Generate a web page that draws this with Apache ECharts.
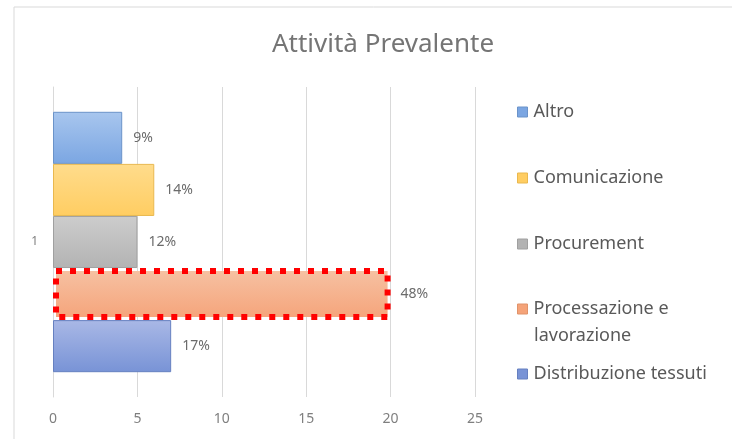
<!DOCTYPE html>
<html>
<head>
<meta charset="utf-8">
<script src="https://cdn.jsdelivr.net/npm/echarts@6/dist/echarts.min.js"></script>
<style>
  html, body { margin: 0; padding: 0; background: #fff; }
  #chart { width: 732px; height: 439px; }
</style>
</head>
<body>
<div id="chart"></div>
<script>
// data, top-to-bottom as the bars are drawn
const categories = ["1"];
const seriesNames = ["Altro", "Comunicazione", "Procurement", "Processazione e lavorazione", "Distribuzione tessuti"];
const seriesValues = [4.1, 6, 5, 20, 7];
const percentLabels = ["9%", "14%", "12%", "48%", "17%"];
const xTicks = [0, 5, 10, 15, 20, 25];

// legend vertical centers (top to bottom)
const legendY = [110, 176, 242, 307, 372];

const fills = {
    "Altro": ["#a8c6ee", "#7ba6e2", "#6b93c9"],
    "Comunicazione": ["#ffdc8c", "#ffcd62", "#e9b84f"],
    "Procurement": ["#cdcdcd", "#b3b3b3", "#a0a0a0"],
    "Processazione e lavorazione": ["#f6c2a4", "#f5a379", "#e0936a"],
    "Distribuzione tessuti": ["#a9b8e6", "#7893d6", "#6680c0"]
};

const chart = echarts.init(document.getElementById("chart"));

const series = seriesNames.map((name, i) => {
    const c = fills[name];
    const highlighted = name === "Processazione e lavorazione";
    return {
        name: name,
        type: "bar",
        barGap: "0%",
        barCategoryGap: "16%",
        data: [seriesValues[i]],
        itemStyle: {
            color: new echarts.graphic.LinearGradient(0, 0, 0, 1, [
                { offset: 0, color: c[0] },
                { offset: 1, color: c[1] }
            ]),
            borderColor: highlighted ? "#ff0000" : c[2],
            borderWidth: highlighted ? 6 : 1,
            borderType: highlighted ? [6, 8] : "solid"
        },
        label: {
            show: true,
            position: "right",
            distance: highlighted ? 10 : 11,
            formatter: () => percentLabels[i],
            color: "#6b6b6b",
            fontSize: 14,
            fontFamily: "Noto Sans"
        },
        emphasis: { disabled: true }
    };
});

const legends = seriesNames.map((name, i) => ({
    data: [{
        name: name,
        icon: "rect",
        itemStyle: { color: fills[name][1], borderColor: fills[name][2], borderWidth: 1, borderType: "solid" }
    }],
    orient: "vertical",
    left: 517,
    top: legendY[i] - 7,
    padding: 0,
    itemWidth: 10,
    itemHeight: 10,
    itemGap: 0,
    selectedMode: false,
    formatter: (n) => n === "Processazione e lavorazione" ? "Processazione e" : n,
    textStyle: { color: "#595959", fontSize: 18, fontFamily: "Noto Sans", padding: [0, 0, 0, 1] }
}));

const option = {
    backgroundColor: "#ffffff",
    animation: false,
    title: {
        text: "Attività Prevalente",
        left: 378,
        textAlign: "center",
        top: 27,
        textStyle: { color: "#757575", fontSize: 26, fontWeight: "normal", fontFamily: "Noto Sans" }
    },
    legend: legends,
    graphic: [
        {
            type: "rect",
            shape: { x: 14, y: 7, width: 760, height: 460 },
            style: { fill: "none", stroke: "#d9d9d9", lineWidth: 1 },
            silent: true,
            z: -1
        },
        {
            type: "text",
            left: 534,
            top: 327,
            style: { text: "lavorazione", fill: "#595959", font: "18px 'Noto Sans'" }
        }
    ],
    grid: { left: 53, right: 257, top: 87, bottom: 42 },
    xAxis: {
        type: "value",
        min: xTicks[0],
        max: xTicks[xTicks.length - 1],
        interval: 5,
        axisLine: { show: false },
        axisTick: { show: false },
        splitLine: { lineStyle: { color: "#d9d9d9" } },
        axisLabel: { color: "#7f7f7f", fontSize: 14, fontFamily: "Noto Sans", margin: 15 }
    },
    yAxis: {
        type: "category",
        data: categories,
        axisLine: { lineStyle: { color: "#d9d9d9" } },
        axisTick: { show: false },
        axisLabel: { color: "#7f7f7f", fontSize: 12, fontFamily: "Noto Sans", margin: 15 }
    },
    series: series
};

chart.setOption(option);
</script>
</body>
</html>
